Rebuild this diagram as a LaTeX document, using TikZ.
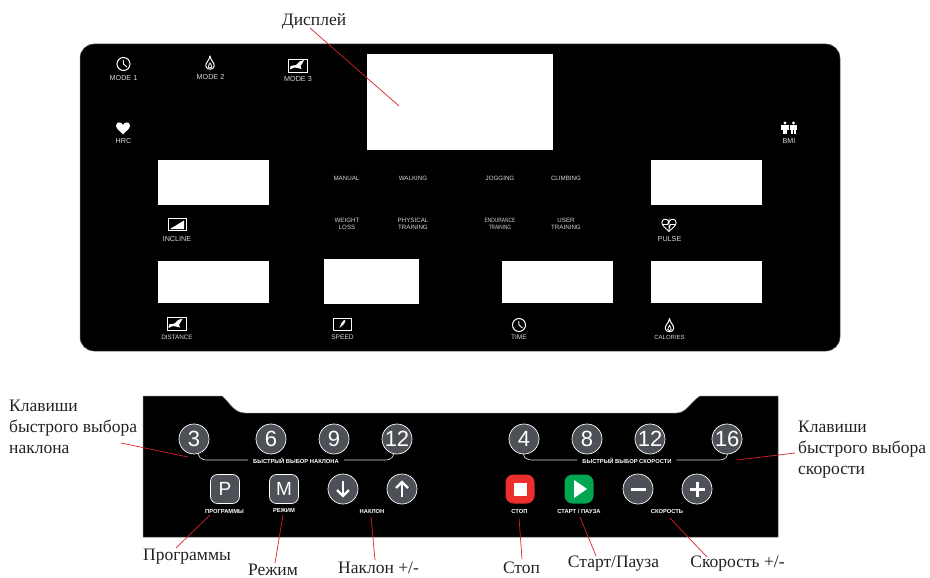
\documentclass[tikz,border=0pt]{standalone}
\usepackage{fontspec}
\setmainfont{Liberation Serif}
\newfontfamily\labelsans{Liberation Sans}
\definecolor{btn}{HTML}{4D5157}
\definecolor{stopred}{HTML}{EC2E2E}
\definecolor{playgreen}{HTML}{00A651}
\definecolor{leader}{HTML}{D8232A}
\definecolor{txtdark}{HTML}{222222}
\definecolor{paneltxt}{HTML}{D9D9D9}
\newcommand{\clockicon}[2]{%
  \draw[white,line width=1pt] (#1,#2) circle[radius=6.5];
  \draw[white,line width=.9pt] (#1-.3,#2-4.2) -- (#1,#2) -- (#1+3.5,#2+3);}
\newcommand{\flameicon}[2]{%
  \draw[white,line width=1pt,line join=round] (#1,#2-7.5)
    .. controls (#1+.5,#2-3) and (#1+4.6,#2-1) .. (#1+4.2,#2+2.6)
    .. controls (#1+3.8,#2+6.8) and (#1-3.8,#2+6.8) .. (#1-4.2,#2+2.6)
    .. controls (#1-4.6,#2-1) and (#1-.5,#2-3) .. (#1,#2-7.5) -- cycle;
  \draw[white,line width=.8pt] (#1,#2-.5)
    .. controls (#1+.4,#2+1) and (#1+2,#2+2) .. (#1+1.7,#2+3.5)
    .. controls (#1+1.3,#2+5) and (#1-1.3,#2+5) .. (#1-1.7,#2+3.5)
    .. controls (#1-2,#2+2) and (#1-.4,#2+1) .. (#1,#2-.5) -- cycle;}
\newcommand{\climbicon}[2]{%
  \draw[white,line width=.9pt] (#1-9.5,#2-6.5) rectangle (#1+9.5,#2+6.5);
  \fill[white] (#1-8,#2+4) -- (#1-7.5,#2+.5) -- (#1-2,#2-.5) -- (#1+1.5,#2-4)
     -- (#1+6,#2-5.5) -- (#1+4.5,#2-2.5) -- (#1+2.5,#2+.5) -- (#1+3.5,#2+3.5) -- (#1-.5,#2+2.5) -- (#1-4,#2+2) -- cycle;}
\newcommand{\heartshape}[3]{%
  (#1,#2+#3*.95) .. controls (#1-#3*.5,#2+#3*.45) and (#1-#3*1.05,#2+#3*.1) .. (#1-#3*1.05,#2-#3*.35)
  .. controls (#1-#3*1.05,#2-#3*1) and (#1-#3*.2,#2-#3*1) .. (#1,#2-#3*.45)
  .. controls (#1+#3*.2,#2-#3*1) and (#1+#3*1.05,#2-#3*1) .. (#1+#3*1.05,#2-#3*.35)
  .. controls (#1+#3*1.05,#2+#3*.1) and (#1+#3*.5,#2+#3*.45) .. (#1,#2+#3*.95) -- cycle}
\newcommand{\personicon}[2]{%
  \fill[white] (#1,#2-5) circle[radius=1.7];
  \fill[white] (#1-3.8,#2-3) rectangle (#1+3.8,#2+1.8);
  \fill[white] (#1-2.2,#2+1.8) rectangle (#1-.4,#2+6);
  \fill[white] (#1+.4,#2+1.8) rectangle (#1+2.2,#2+6);}
\tikzset{
  x=1pt,y=-1pt,
  panel/.style={fill=black,draw=black!60,line width=.5pt},
  screen/.style={fill=white,draw=none},
  plabel/.style={text=paneltxt,font=\labelsans\fontsize{7.2}{8}\selectfont,inner sep=0pt,align=center},
  mlabel/.style={text=paneltxt,font=\labelsans\fontsize{6.2}{7.4}\selectfont,inner sep=0pt,align=center},
  tinybold/.style={text=white,font=\labelsans\bfseries\fontsize{5.8}{6}\selectfont,inner sep=0pt},
  numbtn/.style={circle,fill=btn,draw=white,line width=.7pt,minimum size=30pt,inner sep=0pt,text=white,font=\labelsans\fontsize{22}{23}\selectfont},
  squarebtn/.style={rectangle,rounded corners=7pt,fill=btn,draw=white,line width=.7pt,minimum size=29pt,inner sep=0pt,text=white,font=\labelsans\fontsize{19}{20}\selectfont},
  colorbtn/.style={rectangle,rounded corners=8pt,minimum size=29pt,inner sep=0pt,draw=none},
  callout/.style={text=txtdark,font=\fontsize{17.5}{21}\selectfont,inner sep=0pt,align=left},
  leaderline/.style={draw=leader,line width=.7pt},
  bracket/.style={draw=white!85!black,line width=.7pt}
}
\begin{document}
\begin{tikzpicture}
\useasboundingbox (0,0) rectangle (930,578);
% top panel
\draw[panel,rounded corners=14pt] (80,44) rectangle (840,351);
\path[screen] (367,54) rectangle (553,150);
\path[screen] (158,160) rectangle (269,205);
\path[screen] (651,160) rectangle (762,205);
\path[screen] (158,261) rectangle (269,303);
\path[screen] (324,259) rectangle (419,304);
\path[screen] (502,261) rectangle (613,303);
\path[screen] (651,261) rectangle (762,303);
% top icons
\clockicon{123.5}{64}
\flameicon{210}{63.5}
\climbicon{298}{65.5}
\fill[white] \heartshape{123}{128}{6.6};
\personicon{785}{128}
\personicon{793.5}{128}
\draw[white,line width=.8pt] (168,218.5) rectangle (186,230.5);
\fill[white] (170,229) -- (184,229) -- (184,220.5) -- cycle;
\climbicon{176.5}{324}
\draw[white,line width=.8pt] (333,318) rectangle (351,330);
\fill[white] (339.5,328) -- (341.5,323) -- (344,320) -- (345.5,320.5) -- (344,324) -- cycle;
\clockicon{519}{325}
\flameicon{669.5}{326}
\draw[white,line width=.9pt] \heartshape{669}{225}{6.8};
\draw[white,line width=.8pt] (662.5,224.5) -- (667.5,224.5) -- (669,220) -- (669,229.5) -- (670.5,224.5) -- (675.5,224.5);
\node[plabel] (mode1) at (123.5,78) {MODE 1};
\node[plabel] (mode2) at (210.5,77) {MODE 2};
\node[plabel] (mode3) at (298,79.5) {MODE 3};
\node[plabel] (hrc) at (123.5,141) {HRC};
\node[plabel] (bmi) at (789,141) {BMI};
\node[plabel] (incline) at (177,239.5) {INCLINE};
\node[plabel] (pulse) at (669.5,239.5) {PULSE};
\node[plabel,font=\labelsans\fontsize{6.3}{8}\selectfont] (distance) at (177,337) {DISTANCE};
\node[plabel,font=\labelsans\fontsize{6.6}{8}\selectfont] (speed) at (342.5,337) {SPEED};
\node[plabel,font=\labelsans\fontsize{6.6}{8}\selectfont] (time) at (519,337) {TIME};
\node[plabel,font=\labelsans\fontsize{6}{8}\selectfont] (calories) at (669.5,337) {CALORIES};
\node[mlabel] (manual) at (346.5,178) {MANUAL};
\node[mlabel] (walking) at (413,178) {WALKING};
\node[mlabel] (jogging) at (500,178) {JOGGING};
\node[mlabel] (climbing) at (566,178) {CLIMBING};
\node[mlabel] (weight) at (347,224) {WEIGHT\\LOSS};
\node[mlabel] (physical) at (413,224) {PHYSICAL\\TRAINING};
\node[mlabel] (endurance) at (500,224) {\scalebox{.78}[1]{ENDURANCE}\\\scalebox{.75}[1]{TRAINING}};
\node[mlabel] (user) at (566,224) {USER\\TRAINING};
% bottom panel
\fill[panel] (143,396) -- (222,396) .. controls (230,403) and (234,413) .. (245,413) -- (677,413) .. controls (686,413) and (691,402) .. (700,396) -- (778,396) -- (778,537) -- (143,537) -- cycle;
\node[tinybold] (quickincl) at (296,461) {БЫСТРЫЙ ВЫБОР НАКЛОНА};
\node[tinybold] (quickspeed) at (627,461) {БЫСТРЫЙ ВЫБОР СКОРОСТИ};
\coordinate (bl1) at (198,450);
\coordinate (bl2) at (394,450);
\coordinate (bl3) at (523,450);
\coordinate (bl4) at (728,450);
\draw[bracket] (bl1) .. controls (198,457) and (200,460) .. (208,460) -- ([xshift=-5pt]quickincl.west |- 0,460);
\draw[bracket] (bl2) .. controls (394,457) and (392,460) .. (384,460) -- ([xshift=5pt]quickincl.east |- 0,460);
\draw[bracket] (bl3) .. controls (523,457) and (525,460) .. (533,460) -- ([xshift=-5pt]quickspeed.west |- 0,460);
\draw[bracket] (bl4) .. controls (728,457) and (726,460) .. (718,460) -- ([xshift=5pt]quickspeed.east |- 0,460);
\node[numbtn] (n3) at (194,439) {3};
\node[numbtn] (n6) at (271,439) {6};
\node[numbtn] (n9) at (334,439) {9};
\node[numbtn] (n12a) at (397,439) {12};
\node[numbtn] (n4) at (524,439) {4};
\node[numbtn] (n8) at (587,439) {8};
\node[numbtn] (n12b) at (650,439) {12};
\node[numbtn] (n16) at (727,439) {16};
\node[squarebtn] (bp) at (225,489) {P};
\node[squarebtn] (bm) at (284,489) {M};
\node[numbtn] (bdown) at (343,489) {};
\node[numbtn] (bup) at (402,489) {};
\node[colorbtn,fill=stopred] (bstop) at (520,489) {};
\node[colorbtn,fill=playgreen] (bplay) at (579,489) {};
\node[numbtn] (bminus) at (638,489) {};
\node[numbtn] (bplus) at (697,489) {};
\fill[white] (513.5,482.5) rectangle (526.5,495.5);
\fill[white] (574,480) -- (587,489) -- (574,498) -- cycle;
\draw[white,line width=2.6pt] (343,481) -- (343,495);
\draw[white,line width=2.4pt,line join=miter] (337,490) -- (343,496) -- (349,490);
\draw[white,line width=2.6pt] (402,497) -- (402,483);
\draw[white,line width=2.4pt,line join=miter] (396,488) -- (402,482) -- (408,488);
\draw[white,line width=3pt] (630.5,489) -- (645.5,489);
\draw[white,line width=3pt] (689.5,489) -- (704.5,489) (697,481.5) -- (697,496.5);
\node[tinybold] (sprog) at (224.5,511) {ПРОГРАММЫ};
\node[tinybold] (srezh) at (284,511) {РЕЖИМ};
\node[tinybold] (snakl) at (372,511) {НАКЛОН};
\node[tinybold] (sstop) at (519.5,511) {СТОП};
\node[tinybold] (sstart) at (579,511) {СТАРТ / ПАУЗА};
\node[tinybold] (sspeed) at (667,511) {СКОРОСТЬ};
% callouts
\node[callout] (cdisp) at (314,21) {Дисплей};
\node[callout,anchor=west] (cleft) at (9,427) {Клавиши\\быстрого выбора\\наклона};
\node[callout,anchor=west] (cright) at (798,449.5) {Клавиши\\быстрого выбора\\скорости};
\node[callout] (cprog) at (187,557) {Программы};
\node[callout] (crezh) at (273,569.5) {Режим};
\node[callout] (cnakl) at (378.5,568) {Наклон +/-};
\node[callout] (cstop) at (521.5,568) {Стоп};
\node[callout] (cstart) at (613.5,564) {Старт/Пауза};
\node[callout] (cspeed) at (737.5,564) {Скорость +/-};
\coordinate (edisp) at (399,106);
\coordinate (eleft) at (188,457);
\coordinate (eright) at (737,460);
\coordinate (sdisp) at (310,28);
\coordinate (sleft) at (121,443);
\coordinate (sright) at (795,453);
\coordinate (pprog) at (176,548);
\coordinate (prezh) at (275,563);
\coordinate (pnakl) at (375,560);
\coordinate (pstop) at (522,559);
\coordinate (pstart) at (596,556);
\coordinate (pspeed) at (707,557);
\coordinate (tprog) at (210,515);
\coordinate (trezh) at (283,515);
\coordinate (tnakl) at (371,517);
\coordinate (tstop) at (519,518);
\coordinate (tstart) at (580,517);
\coordinate (tspeed) at (670,518);
\draw[leaderline] (sdisp) -- (edisp);
\draw[leaderline] (sleft) -- (eleft);
\draw[leaderline] (sright) -- (eright);
\draw[leaderline] (pprog) -- (tprog);
\draw[leaderline] (prezh) -- (trezh);
\draw[leaderline] (pnakl) -- (tnakl);
\draw[leaderline] (pstop) -- (tstop);
\draw[leaderline] (pstart) -- (tstart);
\draw[leaderline] (pspeed) -- (tspeed);
\end{tikzpicture}
\end{document}
